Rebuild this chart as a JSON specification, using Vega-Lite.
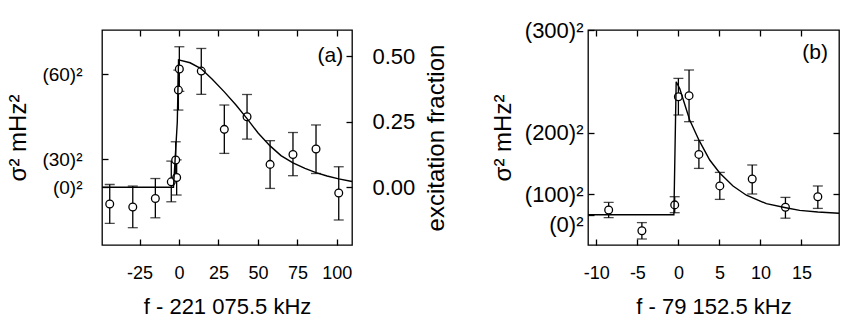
{
  "$schema": "https://vega.github.io/schema/vega-lite/v6.json",
  "padding": {"left": 6, "top": 18, "right": 5, "bottom": 5},
  "bounds": "flush",
  "spacing": 236,
  "config": {
    "view": {"stroke": "black", "strokeWidth": 1.3},
    "axis": {
      "grid": false, "domain": false, "tickColor": "black", "labelColor": "black", "titleColor": "black",
      "tickWidth": 1.3, "tickSize": -6, "labelFont": "Liberation Sans", "titleFont": "Liberation Sans",
      "titleFontWeight": "normal", "labelFlush": false, "labelOverlap": false
    }
  },
  "hconcat": [
    {
      "width": 250,
      "height": 215,
      "resolve": {"scale": {"x": "independent", "y": "independent"}, "axis": {"x": "independent", "y": "independent"}},
      "layer": [
        {
          "data": {"values": [
            {"x": -43.9, "y": -530, "lo": -1150, "hi": 90},
            {"x": -29.3, "y": -625, "lo": -1285, "hi": 40},
            {"x": -15.0, "y": -355, "lo": -970, "hi": 280},
            {"x": -4.9, "y": 175, "lo": -460, "hi": 835},
            {"x": -2.1, "y": 870, "lo": 290, "hi": 1450},
            {"x": -1.5, "y": 315, "lo": -245, "hi": 875},
            {"x": -0.4, "y": 3095, "lo": 2460, "hi": 3730},
            {"x": 0.2, "y": 3765, "lo": 3055, "hi": 4475},
            {"x": 14.1, "y": 3700, "lo": 2960, "hi": 4420},
            {"x": 28.7, "y": 1845, "lo": 1080, "hi": 2620},
            {"x": 43.1, "y": 2245, "lo": 1535, "hi": 2955},
            {"x": 57.7, "y": 730, "lo": -35, "hi": 1485},
            {"x": 72.2, "y": 1045, "lo": 370, "hi": 1745},
            {"x": 86.8, "y": 1220, "lo": 440, "hi": 1985},
            {"x": 101.2, "y": -180, "lo": -1040, "hi": 655}
          ]},
          "layer": [
            {
              "mark": {"type": "errorbar", "color": "black", "ticks": {"size": 10, "thickness": 1.3}, "rule": {"strokeWidth": 1.3}},
              "encoding": {
                "x": {"field": "x", "type": "quantitative",
                      "scale": {"domain": [-48.8, 109.6], "nice": false, "zero": false},
                      "axis": {"values": [-25, 0, 25, 50, 75, 100], "labelExpr": "'' + datum.value", "labelPadding": 25,
                               "labelFontSize": 18, "title": "f - 221 075.5 kHz",
                               "titleFontSize": 22, "titlePadding": 14}},
                "y": {"field": "lo", "type": "quantitative",
                      "scale": {"domain": [-1836, 5008], "nice": false, "zero": false},
                      "axis": {"values": [0, 900, 3600], "labelExpr": "'(' + sqrt(datum.value) + ')²'",
                               "labelPadding": 26, "labelFontSize": 19, "title": "σ²  mHz²",
                               "titleFontSize": 24, "titlePadding": 11}},
                "y2": {"field": "hi"}
              }
            },
            {
              "mark": {"type": "point", "shape": "circle", "filled": true, "fill": "white", "stroke": "black", "strokeWidth": 1.3, "size": 60, "opacity": 1},
              "encoding": {
                "x": {"field": "x", "type": "quantitative"},
                "y": {"field": "y", "type": "quantitative", "axis": {"title": "σ²  mHz²"}}
              }
            }
          ]
        },
        {
          "layer": [
            {
              "data": {"values": [
                {"x": -48.8, "f": 0}, {"x": -3.5, "f": 0}, {"x": -1.1, "f": 0.248}, {"x": -0.3, "f": 0.486},
                {"x": 7.0, "f": 0.475}, {"x": 13.9, "f": 0.453}, {"x": 20.9, "f": 0.413}, {"x": 28.7, "f": 0.364},
                {"x": 36.1, "f": 0.314}, {"x": 43.1, "f": 0.262}, {"x": 50.1, "f": 0.207}, {"x": 57.7, "f": 0.158},
                {"x": 64.6, "f": 0.121}, {"x": 72.2, "f": 0.093}, {"x": 79.8, "f": 0.072}, {"x": 86.8, "f": 0.056},
                {"x": 93.8, "f": 0.043}, {"x": 101.2, "f": 0.032}, {"x": 109.6, "f": 0.022}
              ]},
              "mark": {"type": "line", "color": "black", "strokeWidth": 1.4},
              "encoding": {
                "x": {"field": "x", "type": "quantitative",
                      "scale": {"domain": [-48.8, 109.6], "nice": false, "zero": false},
                      "axis": {"orient": "top", "values": [-25, 0, 25, 50, 75, 100], "labels": false, "title": null}},
                "y": {"field": "f", "type": "quantitative",
                      "scale": {"domain": [-0.22, 0.6], "nice": false, "zero": false},
                      "axis": {"orient": "right", "values": [0, 0.25, 0.5], "format": ".2f", "labelPadding": 26,
                               "labelFontSize": 22, "title": "excitation fraction", "titleFontSize": 24,
                               "titleAngle": 270, "titleBaseline": "top", "titlePadding": 10}}
              }
            },
            {
              "data": {"values": [{"x": 104, "f": 0.5, "label": "(a)"}]},
              "mark": {"type": "text", "align": "right", "baseline": "middle", "fontSize": 21, "font": "Liberation Sans", "color": "black"},
              "encoding": {
                "x": {"field": "x", "type": "quantitative"},
                "y": {"field": "f", "type": "quantitative"},
                "text": {"field": "label"}
              }
            }
          ]
        }
      ]
    },
    {
      "width": 251,
      "height": 215,
      "resolve": {"scale": {"x": "independent", "y": "independent"}, "axis": {"x": "independent", "y": "independent"}},
      "layer": [
        {
          "data": {"values": [
            {"x": -8.5, "y": 2270, "lo": -1460, "hi": 5990},
            {"x": -4.45, "y": -7850, "lo": -11840, "hi": -3850},
            {"x": -0.45, "y": 4780, "lo": 975, "hi": 8770},
            {"x": 0.0, "y": 57500, "lo": 48580, "hi": 66420},
            {"x": 1.3, "y": 58000, "lo": 45320, "hi": 70510},
            {"x": 2.5, "y": 29380, "lo": 22560, "hi": 36200},
            {"x": 5.05, "y": 14030, "lo": 7460, "hi": 20610},
            {"x": 9.0, "y": 17400, "lo": 10090, "hi": 24220},
            {"x": 13.05, "y": 3650, "lo": -1700, "hi": 8430},
            {"x": 17.0, "y": 8770, "lo": 3070, "hi": 13990}
          ]},
          "layer": [
            {
              "mark": {"type": "errorbar", "color": "black", "ticks": {"size": 10, "thickness": 1.3}, "rule": {"strokeWidth": 1.3}},
              "encoding": {
                "x": {"field": "x", "type": "quantitative",
                      "scale": {"domain": [-11.02, 19.58], "nice": false, "zero": false},
                      "axis": {"values": [-10, -5, 0, 5, 10, 15], "labelExpr": "'' + datum.value", "labelPadding": 25,
                               "labelFontSize": 18, "title": "f - 79 152.5 kHz",
                               "titleFontSize": 22, "titlePadding": 14}},
                "y": {"field": "lo", "type": "quantitative",
                      "scale": {"domain": [-14766, 90000], "nice": false, "zero": false},
                      "axis": {"values": [0, 10000, 40000, 90000], "labelExpr": "'(' + sqrt(datum.value) + ')²'",
                               "labelBaseline": {"condition": {"test": "datum.value == 0", "value": "top"}, "value": "middle"},
                               "labelPadding": 11, "labelFontSize": 22, "title": "σ²  mHz²",
                               "titleFontSize": 24, "titlePadding": 9}},
                "y2": {"field": "hi"}
              }
            },
            {
              "mark": {"type": "point", "shape": "circle", "filled": true, "fill": "white", "stroke": "black", "strokeWidth": 1.3, "size": 60, "opacity": 1},
              "encoding": {
                "x": {"field": "x", "type": "quantitative"},
                "y": {"field": "y", "type": "quantitative", "axis": {"title": "σ²  mHz²"}}
              }
            }
          ]
        },
        {
          "layer": [
            {
              "data": {"values": [
                {"x": -11.02, "s": 0}, {"x": -0.55, "s": 0}, {"x": -0.27, "s": 64800}, {"x": 0.16, "s": 61500},
                {"x": 1.38, "s": 46150}, {"x": 2.54, "s": 36060}, {"x": 3.82, "s": 26650}, {"x": 5.04, "s": 20300},
                {"x": 6.66, "s": 14000}, {"x": 8.29, "s": 9500}, {"x": 10.73, "s": 5360}, {"x": 13.09, "s": 3400},
                {"x": 14.79, "s": 2100}, {"x": 17.0, "s": 1300}, {"x": 19.58, "s": 700}
              ]},
              "mark": {"type": "line", "color": "black", "strokeWidth": 1.4},
              "encoding": {
                "x": {"field": "x", "type": "quantitative",
                      "scale": {"domain": [-11.02, 19.58], "nice": false, "zero": false},
                      "axis": {"orient": "top", "values": [-10, -5, 0, 5, 10, 15], "labels": false, "title": null}},
                "y": {"field": "s", "type": "quantitative",
                      "scale": {"domain": [-14766, 90000], "nice": false, "zero": false},
                      "axis": {"orient": "right", "values": [10000, 40000], "labels": false, "title": null}}
              }
            },
            {
              "data": {"values": [{"x": 18.24, "s": 78600, "label": "(b)"}]},
              "mark": {"type": "text", "align": "right", "baseline": "middle", "fontSize": 21, "font": "Liberation Sans", "color": "black"},
              "encoding": {
                "x": {"field": "x", "type": "quantitative"},
                "y": {"field": "s", "type": "quantitative"},
                "text": {"field": "label"}
              }
            }
          ]
        }
      ]
    }
  ]
}
